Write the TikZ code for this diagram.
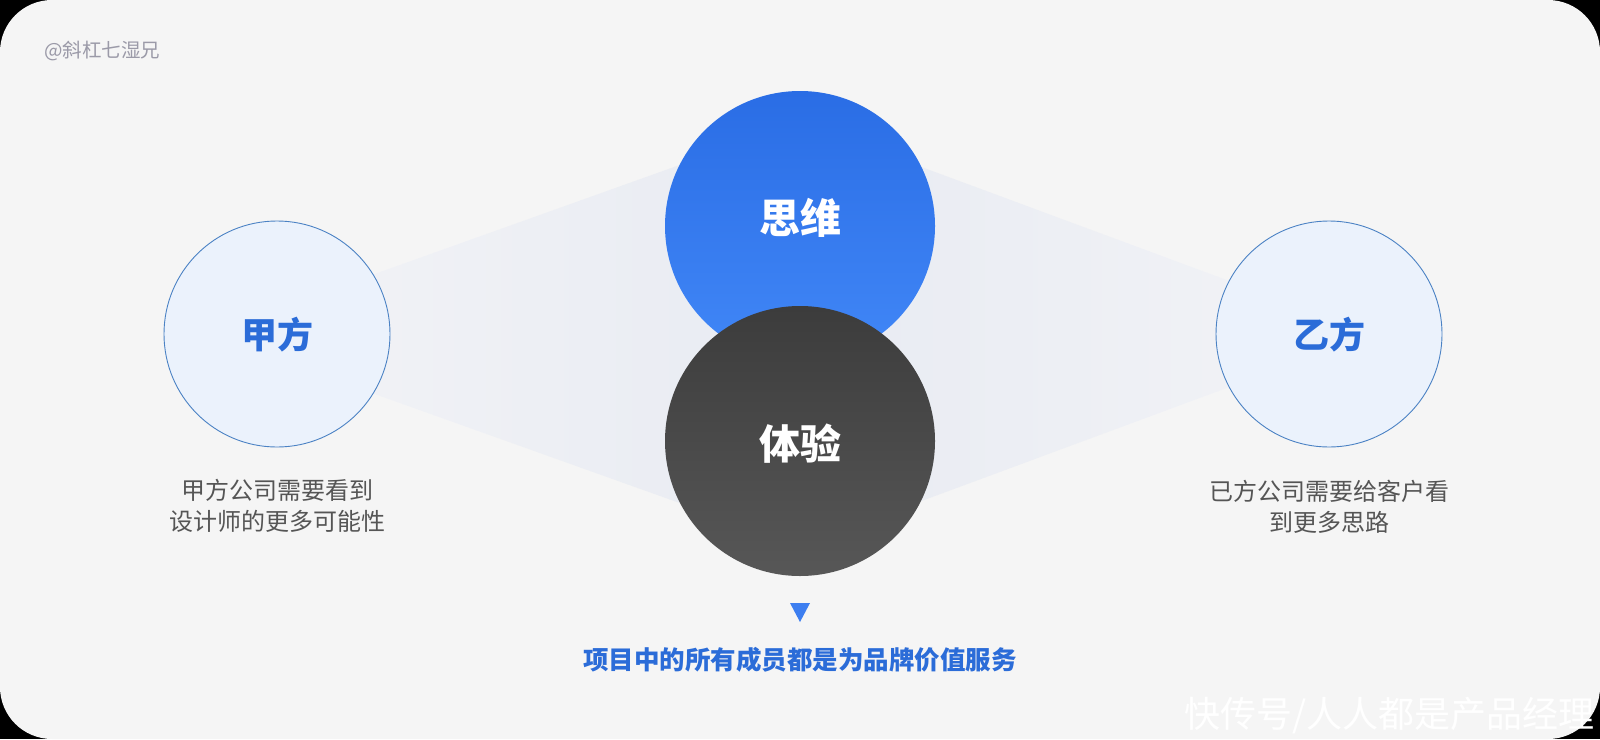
\documentclass[tikz,border=0pt]{standalone}
\usepackage{fontspec}
\newfontfamily\cjk{Noto Sans CJK SC}
\definecolor{bg}{HTML}{F5F5F5}
\definecolor{conein}{HTML}{F2F3F6}
\definecolor{coneout}{HTML}{E8EBF2}
\definecolor{softfill}{HTML}{EBF2FC}
\definecolor{softline}{HTML}{4B82C4}
\definecolor{labelblue}{HTML}{2B6CD8}
\definecolor{bluetop}{HTML}{2A6DE5}
\definecolor{bluebot}{HTML}{4187F7}
\definecolor{darktop}{HTML}{3C3C3C}
\definecolor{darkbot}{HTML}{575757}
\definecolor{captiongray}{HTML}{555555}
\definecolor{markgray}{HTML}{9B9AA8}
\definecolor{tri}{HTML}{3D7EF0}
\tikzset{
  sidecircle/.style={circle, draw=softline, line width=0.9pt, fill=softfill, minimum size=226pt, inner sep=0pt},
  bigcircle/.style={circle, minimum size=270pt, inner sep=0pt},
  sidelabel/.style={font=\cjk\bfseries\fontsize{36}{40}\selectfont, text=labelblue},
  biglabel/.style={font=\cjk\bfseries\fontsize{41}{46}\selectfont, text=white},
  caption/.style={font=\cjk\fontsize{24}{31}\selectfont, text=captiongray, align=center},
}
\begin{document}
\begin{tikzpicture}[x=1pt,y=-1pt]
\useasboundingbox (0,0) rectangle (1600,739);
\fill[black] (0,0) rectangle (1600,739);
\fill[bg, rounded corners=52pt] (0,0) rectangle (1600,739);

% cones, drawn as thin solid slices (no shading seams)
\foreach \i in {0,...,99}{
  \pgfmathsetmacro\xa{277+\i*5.23}
  \pgfmathsetmacro\xb{\xa+5.23+0.6}
  \pgfmathsetmacro\ta{309-(\xa-277)/523*187}
  \pgfmathsetmacro\tb{309-(\xb-277)/523*187}
  \pgfmathsetmacro\ba{359+(\xa-277)/523*187}
  \pgfmathsetmacro\bb{359+(\xb-277)/523*187}
  \pgfmathsetmacro\pc{(\i+0.5)}
  \fill[coneout!\pc!conein] (\xa,\ta) -- (\xb,\tb) -- (\xb,\bb) -- (\xa,\ba) -- cycle;
}
\foreach \i in {0,...,99}{
  \pgfmathsetmacro\xa{800+\i*5.29}
  \pgfmathsetmacro\xb{\xa+5.29+0.6}
  \pgfmathsetmacro\ta{122+(\xa-800)/529*196}
  \pgfmathsetmacro\tb{122+(\xb-800)/529*196}
  \pgfmathsetmacro\ba{546-(\xa-800)/529*196}
  \pgfmathsetmacro\bb{546-(\xb-800)/529*196}
  \pgfmathsetmacro\pc{100-(\i+0.5)}
  \fill[coneout!\pc!conein] (\xa,\ta) -- (\xb,\tb) -- (\xb,\bb) -- (\xa,\ba) -- cycle;
}

% circles
\node[sidecircle] (jia) at (277,334) {};
\node[sidecircle] (yi) at (1329,334) {};
\node[bigcircle, top color=bluetop, bottom color=bluebot] (think) at (800,226) {};
\node[bigcircle, top color=darktop, bottom color=darkbot] (exp) at (800,441) {};

% labels
\node[sidelabel] (jiat) at (277,335) {甲方};
\node[sidelabel] (yit) at (1329,335) {乙方};
\node[biglabel] (thinkt) at (800,218) {思维};
\node[biglabel] (expt) at (800,444) {体验};

% captions
\node[caption] (jiac) at (277,506) {甲方公司需要看到\\设计师的更多可能性};
\node[caption] (yic) at (1329,507) {已方公司需要给客户看\\到更多思路};

% triangle and conclusion
\fill[tri] (790,603) -- (810,603) -- (800,622) -- cycle;
\node[font=\cjk\bfseries\fontsize{25.5}{28}\selectfont, text=labelblue] (concl) at (800,660) {项目中的所有成员都是为品牌价值服务};

% watermarks
\node[font=\cjk\fontsize{19.5}{22}\selectfont, text=markgray, anchor=west, inner sep=0pt] (author) at (44,51) {@斜杠七湿兄};
\node[font=\cjk\fontsize{36}{40}\selectfont, text=white, anchor=east, inner sep=0pt] (site) at (1595,716) {快传号/人人都是产品经理};
\end{tikzpicture}
\end{document}
